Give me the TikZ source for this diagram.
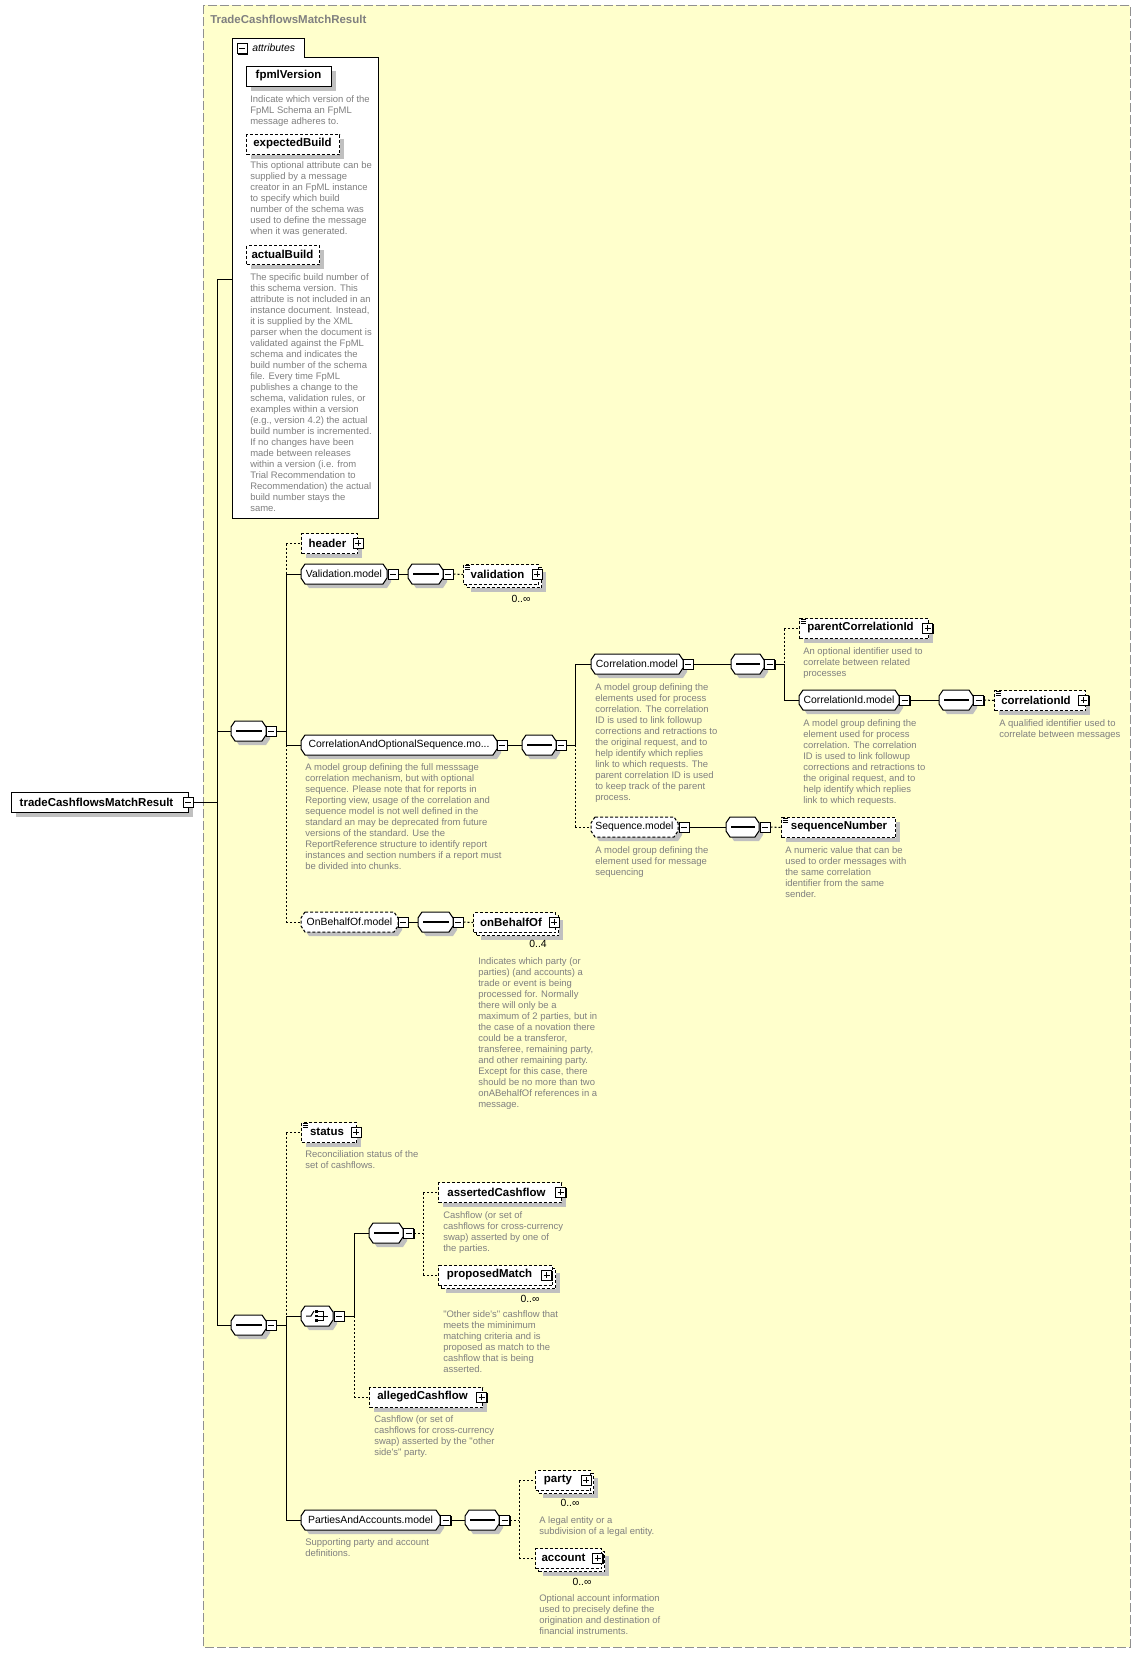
\documentclass[tikz,border=0pt]{standalone}
\usepackage{fontspec}
\newfontfamily\uifont{Liberation Sans}[Ligatures=TeXOff]
\usetikzlibrary{shadows}
\definecolor{bgy}{HTML}{FFFFCC}
\definecolor{framec}{HTML}{909090}
\definecolor{descc}{HTML}{808080}
\definecolor{shadowc}{HTML}{C0C0C0}
\tikzset{
  conn/.style={draw=black, line width=0.75pt},
  dconn/.style={conn, dash pattern=on 1.5pt off 1.5pt},
  dbox/.style={dash pattern=on 2.25pt off 1.5pt},
  shad/.style={drop shadow={shadow xshift=3pt, shadow yshift=-3pt, fill=shadowc, opacity=1}},
  ebox/.style={draw=black, fill=white, inner sep=0pt, line width=0.75pt, rectangle},
  elabel/.style={inner sep=0pt, font=\uifont\bfseries\fontsize{8.6}{10}\selectfont},
  mlabel/.style={inner sep=0pt, font=\uifont\fontsize{7.8}{9}\selectfont},
  desctext/.style={inner sep=0pt, anchor=north west, align=left, text=descc, font=\uifont\fontsize{7.1}{8.25}\selectfont},
  iconbox/.style={draw=black, fill=white, line width=0.75pt, inner sep=0pt, minimum size=7.5pt, rectangle,
     drop shadow={shadow xshift=0.75pt, shadow yshift=-0.75pt, fill=black, opacity=1}},
  ttl/.style={inner sep=0pt, text=descc, font=\uifont\bfseries\fontsize{8.6}{10}\selectfont},
}
% element box: [opts]{name}{x1}{y1}{x2}{y2}{xr}{label}
\newcommand\elem[8][]{%
  \node[ebox,shad,#1,anchor=north west,minimum width={(#5-#3)*0.75pt},minimum height={(#6-#4)*0.75pt}] (#2) at (#3,#4) {};
  \node[elabel] (#2-t) at ({(#3+#7)/2},{(#4+#6)/2}) {#8};}
% multi element box
\newcommand\melem[8][]{%
  \node[ebox,shad,dbox,#1,anchor=north west,minimum width={(#5-#3)*0.75pt},minimum height={(#6-#4)*0.75pt}] (#2-b) at ({#3+3},{#4+3}) {};
  \node[ebox,dbox,#1,anchor=north west,minimum width={(#5-#3)*0.75pt},minimum height={(#6-#4)*0.75pt}] (#2) at (#3,#4) {};
  \node[elabel] (#2-t) at ({(#3+#7)/2},{(#4+#6)/2}) {#8};}
% octagon: [opts]{name}{x1}{x2}{yc}{label}
\newcommand\oct[6][]{%
  \fill[shadowc] ({#3+8},{#5-6}) -- (#4,{#5-6}) -- ({#4+4},{#5+0}) -- ({#4+4},{#5+8}) -- (#4,{#5+14}) -- ({#3+8},{#5+14}) -- ({#3+4},{#5+8}) -- ({#3+4},{#5+0}) -- cycle;
  \draw[fill=white,line width=0.75pt,#1] ({#3+4},{#5-10}) -- ({#4-4},{#5-10}) -- (#4,{#5-4}) -- (#4,{#5+4}) -- ({#4-4},{#5+10}) -- ({#3+4},{#5+10}) -- (#3,{#5+4}) -- (#3,{#5-4}) -- cycle;
  \node[inner sep=0pt,minimum width={(#4-#3)*0.75pt},minimum height=15pt] (#2) at ({(#3+#4)/2},#5) {};
  \node[mlabel] (#2-t) at ({(#3+#4)/2},#5) {#6};}
\newcommand\seqsym[3]{%
  \draw[line width=0.8pt] ({#1+5},#3) -- ({#2-4},#3);
  \fill ({(#1+#2)/2-5},{#3-1.3}) rectangle +(2.6,2.6);
  \fill ({(#1+#2)/2-0.8},{#3-1.3}) rectangle +(2.6,2.6);
  \fill ({(#1+#2)/2+3.6},{#3-1.3}) rectangle +(2.6,2.6);}
\newcommand\choicesym[3]{%
  \draw[line width=0.75pt] ({#1+5},#3) -- ({#1+10},#3) -- ({#1+13},{#3-5});
  \fill ({#1+14.3},{#3-6}) rectangle +(2.7,2.7);
  \fill ({#1+14.3},{#3-1.35}) rectangle +(2.7,2.7);
  \fill ({#1+14.3},{#3+3.3}) rectangle +(2.7,2.7);
  \draw[line width=0.75pt] ({#1+17},{#3-4.6}) -- ({#1+22},{#3-4.6}) -- ({#1+22},{#3+4.6}) -- ({#1+17},{#3+4.6}) ({#1+17},#3) -- ({#2-5},#3);}
\newcommand\iconm[3]{%
  \node[iconbox] (#1) at (#2,#3) {};
  \draw[line width=0.75pt] ({#2-3},#3) -- ({#2+3},#3);}
\newcommand\iconp[3]{%
  \node[iconbox] (#1) at (#2,#3) {};
  \draw[line width=0.75pt] ({#2-3},#3) -- ({#2+3},#3) (#2,{#3-3}) -- (#2,{#3+3});}
\newcommand\simpleic[2]{\draw[line width=0.6pt] ({#1+1.5},{#2+1.8}) -- ++(5,0) ({#1+1.5},{#2+3.8}) -- ++(5,0) ({#1+1.5},{#2+5.8}) -- ++(5,0);}
\newcommand\desc[4]{\node[desctext] (#1) at (#2,{#3-3.5}) {#4};}
\newcommand\occ[4]{\node[mlabel] (#1) at (#2,#3) {#4};}

\begin{document}
\begin{tikzpicture}[x=0.75pt,y=-0.75pt]
\useasboundingbox (0,0) rectangle (1141,1653);
\path[fill=white] (0,0) rectangle (1141,1653);
\draw[fill=bgy, draw=framec, line width=0.75pt, dash pattern=on 6.75pt off 2.25pt] (203,5) rectangle (1130,1647);
\node[ttl,anchor=west] (title) at (210,19) {TradeCashflowsMatchResult};

% ---------- attributes ----------
\draw[fill=white,line width=0.75pt] (232,38) -- (304,38) -- (304,57) -- (378,57) -- (378,518) -- (232,518) -- cycle;
\coordinate (attrw) at (232,279);
\iconm{attrm}{242}{48.5}
\node[inner sep=0pt,anchor=west,font=\uifont\itshape\fontsize{7.8}{9}\selectfont] (attrt) at (252,48) {attributes};

\elem{fpml}{246}{66}{331}{86}{331}{fpmlVersion}
\desc{fpmld}{250}{99}{Indicate which version of the\\FpML Schema an FpML\\message adheres to.}
\elem[dbox]{expb}{246}{134}{339}{154}{339}{expectedBuild}
\desc{expbd}{250}{165}{This optional attribute can be\\supplied by a message\\creator in an FpML instance\\to specify which build\\number of the schema was\\used to define the message\\when it was generated.}
\elem[dbox]{actb}{246}{245}{319}{264}{319}{actualBuild}
\desc{actbd}{250}{277}{The specific build number of\\this schema version. This\\attribute is not included in an\\instance document. Instead,\\it is supplied by the XML\\parser when the document is\\validated against the FpML\\schema and indicates the\\build number of the schema\\file. Every time FpML\\publishes a change to the\\schema, validation rules, or\\examples within a version\\(e.g., version 4.2) the actual\\build number is incremented.\\If no changes have been\\made between releases\\within a version (i.e. from\\Trial Recommendation to\\Recommendation) the actual\\build number stays the\\same.}

% ---------- root ----------
\elem{root}{11}{792}{188}{812}{182}{tradeCashflowsMatchResult}
\iconm{rootm}{188}{802}

\coordinate (busA) at (217,0);
\coordinate (busB) at (286,0);
\coordinate (busC) at (575,0);
\coordinate (busD) at (784,0);
\coordinate (busF) at (354,0);
\coordinate (busG) at (423,0);
\coordinate (busH) at (519,0);

% ---------- first sequence ----------
\oct{seq1}{231}{266}{731}{}\seqsym{231}{266}{731}
\iconm{seq1m}{271}{731}

\elem[dbox]{header}{301}{533}{357}{553}{354}{header}
\iconp{headerp}{358}{543}

\oct{valm}{301}{387}{574}{Validation.model}
\iconm{valmm}{393}{574}
\oct{valseq}{408}{443}{574}{}\seqsym{408}{443}{574}
\iconm{valseqm}{448}{574}
\melem{valid}{463}{564}{538}{584}{532}{validation}
\simpleic{463}{564}
\iconp{validp}{537}{574}
\occ{valido}{521}{599}{0..∞}

\oct{corrseq}{301}{497}{745}{CorrelationAndOptionalSequence.mo...}
\iconm{corrseqm}{502}{745}
\oct{csseq}{522}{556}{745}{}\seqsym{522}{556}{745}
\iconm{csseqm}{561}{745}
\desc{corrseqd}{305}{767}{A model group defining the full messsage\\correlation mechanism, but with optional\\sequence. Please note that for reports in\\Reporting view, usage of the correlation and\\sequence model is not well defined in the\\standard an may be deprecated from future\\versions of the standard. Use the\\ReportReference structure to identify report\\instances and section numbers if a report must\\be divided into chunks.}

\oct{corrm}{591}{683}{664}{Correlation.model}
\iconm{corrmm}{688}{664}
\oct{cmseq}{731}{764}{664}{}\seqsym{731}{764}{664}
\iconm{cmseqm}{769.5}{664}
\desc{corrmd}{595}{687}{A model group defining the\\elements used for process\\correlation. The correlation\\ID is used to link followup\\corrections and retractions to\\the original request, and to\\help identify which replies\\link to which requests. The\\parent correlation ID is used\\to keep track of the parent\\process.}

\elem[dbox]{pcid}{799}{618}{928}{638}{922}{parentCorrelationId}
\simpleic{799}{618}
\iconp{pcidp}{927.5}{628}
\desc{pcidd}{803}{651}{An optional identifier used to\\correlate between related\\processes}

\oct{cidm}{799}{899}{700}{CorrelationId.model}
\iconm{cidmm}{904.5}{700}
\oct{cidseq}{939}{973}{700}{}\seqsym{939}{973}{700}
\iconm{cidseqm}{978.5}{700}
\elem[dbox]{cid}{994}{690}{1085}{710}{1078}{correlationId}
\simpleic{994}{690}
\iconp{cidp}{1083.5}{700}
\desc{cidd}{999}{723}{A qualified identifier used to\\correlate between messages}
\desc{cidmd}{803}{723}{A model group defining the\\element used for process\\correlation. The correlation\\ID is used to link followup\\corrections and retractions to\\the original request, and to\\help identify which replies\\link to which requests.}

\oct[dbox]{seqm}{591}{678}{827}{Sequence.model}
\iconm{seqmm}{684}{827}
\oct{smseq}{726}{759}{827}{}\seqsym{726}{759}{827}
\iconm{smseqm}{765}{827}
\elem[dbox]{seqn}{781}{817}{895}{837}{897}{sequenceNumber}
\simpleic{781}{817}
\desc{seqnd}{785}{850}{A numeric value that can be\\used to order messages with\\the same correlation\\identifier from the same\\sender.}
\desc{seqmd}{595}{850}{A model group defining the\\element used for message\\sequencing}

\oct[dbox]{obom}{301}{398}{922}{OnBehalfOf.model}
\iconm{obomm}{403}{922}
\oct{oboseq}{418}{453}{922}{}\seqsym{418}{453}{922}
\iconm{oboseqm}{458}{922}
\melem{obo}{473}{912}{555}{932}{549}{onBehalfOf}
\iconp{obop}{554}{922}
\occ{oboo}{538}{944}{0..4}
\desc{obod}{478}{961}{Indicates which party (or\\parties) (and accounts) a\\trade or event is being\\processed for. Normally\\there will only be a\\maximum of 2 parties, but in\\the case of a novation there\\could be a transferor,\\transferee, remaining party,\\and other remaining party.\\Except for this case, there\\should be no more than two\\onABehalfOf references in a\\message.}

% ---------- second sequence ----------
\oct{seq2}{231}{266}{1325}{}\seqsym{231}{266}{1325}
\iconm{seq2m}{271}{1325}

\elem[dbox]{status}{301}{1122}{356}{1142}{353}{status}
\simpleic{301}{1122}
\iconp{statusp}{356}{1132}
\desc{statusd}{305}{1154}{Reconciliation status of the\\set of cashflows.}

\oct{choice}{301}{333}{1316}{}\choicesym{301}{333}{1316}
\iconm{choicem}{339}{1316}

\oct{seq3}{369}{403}{1233}{}\seqsym{369}{403}{1233}
\iconm{seq3m}{408.5}{1233}

\elem[dbox]{asserted}{438}{1182}{561}{1202}{555}{assertedCashflow}
\iconp{assertedp}{560.5}{1192}
\desc{assertedd}{443}{1215}{Cashflow (or set of\\cashflows for cross-currency\\swap) asserted by one of\\the parties.}

\melem{proposed}{438}{1265}{552}{1285}{541}{proposedMatch}
\iconp{proposedp}{546.5}{1275}
\occ{proposedo}{530}{1299}{0..∞}
\desc{proposedd}{443}{1314}{"Other side's" cashflow that\\meets the miminimum\\matching criteria and is\\proposed as match to the\\cashflow that is being\\asserted.}

\elem[dbox]{alleged}{369}{1387}{482}{1407}{476}{allegedCashflow}
\iconp{allegedp}{481.5}{1397}
\desc{allegedd}{374}{1419}{Cashflow (or set of\\cashflows for cross-currency\\swap) asserted by the "other\\side's" party.}

\oct{pam}{301}{440}{1520}{PartiesAndAccounts.model}
\iconm{pamm}{445.5}{1520}
\oct{paseq}{465}{499}{1520}{}\seqsym{465}{499}{1520}
\iconm{paseqm}{504.5}{1520}
\desc{pamd}{305}{1542}{Supporting party and account\\definitions.}

\melem{party}{535}{1470}{590}{1490}{581}{party}
\iconp{partyp}{586}{1480}
\occ{partyo}{570}{1503}{0..∞}
\desc{partyd}{539}{1520}{A legal entity or a\\subdivision of a legal entity.}

\melem{account}{535}{1548}{601}{1568}{592}{account}
\iconp{accountp}{597.5}{1558}
\occ{accounto}{582}{1582}{0..∞}
\desc{accountd}{539}{1598}{Optional account information\\used to precisely define the\\origination and destination of\\financial instruments.}

% ---------- connectors ----------
\draw[conn] (attrw -| busA) -- (seq2.west -| busA);
\draw[conn] (attrw -| busA) -- (attrw);
\draw[conn] (rootm.east) -- (rootm.east -| busA);
\draw[conn] (seq1.west -| busA) -- (seq1.west);
\draw[conn] (seq2.west -| busA) -- (seq2.west);

\draw[conn] (seq1m.east) -- (seq1m.east -| busB);
\draw[dconn] (header.west -| busB) -- (valm.west -| busB);
\draw[conn] (valm.west -| busB) -- (corrseq.west -| busB);
\draw[dconn] (corrseq.west -| busB) -- (obom.west -| busB);
\draw[dconn] (header.west -| busB) -- (header.west);
\draw[conn] (valm.west -| busB) -- (valm.west);
\draw[conn] (corrseq.west -| busB) -- (corrseq.west);
\draw[dconn] (obom.west -| busB) -- (obom.west);

\draw[conn] (valmm.east) -- (valseq.west);
\draw[dconn] (valseqm.east) -- (valid.west);

\draw[conn] (corrseqm.east) -- (csseq.west);
\draw[conn] (csseqm.east) -- (csseqm.east -| busC);
\draw[conn] (corrm.west -| busC) -- (csseqm.east -| busC);
\draw[dconn] (csseqm.east -| busC) -- (seqm.west -| busC);
\draw[conn] (corrm.west -| busC) -- (corrm.west);
\draw[dconn] (seqm.west -| busC) -- (seqm.west);

\draw[conn] (corrmm.east) -- (cmseq.west);
\draw[conn] (cmseqm.east) -- (cmseqm.east -| busD);
\draw[dconn] (pcid.west -| busD) -- (cmseqm.east -| busD);
\draw[conn] (cmseqm.east -| busD) -- (cidm.west -| busD);
\draw[dconn] (pcid.west -| busD) -- (pcid.west);
\draw[conn] (cidm.west -| busD) -- (cidm.west);
\draw[conn] (cidmm.east) -- (cidseq.west);
\draw[dconn] (cidseqm.east) -- (cid.west);

\draw[conn] (seqmm.east) -- (smseq.west);
\draw[dconn] (smseqm.east) -- (seqn.west);

\draw[conn] (obomm.east) -- (oboseq.west);
\draw[dconn] (oboseqm.east) -- (obo.west);

\draw[conn] (seq2m.east) -- (seq2m.east -| busB);
\draw[dconn] (status.west -| busB) -- (choice.west -| busB);
\draw[conn] (choice.west -| busB) -- (pam.west -| busB);
\draw[dconn] (status.west -| busB) -- (status.west);
\draw[conn] (choice.west -| busB) -- (choice.west);
\draw[conn] (pam.west -| busB) -- (pam.west);

\draw[conn] (choicem.east) -- (choicem.east -| busF);
\draw[conn] (seq3.west -| busF) -- (choicem.east -| busF);
\draw[dconn] (choicem.east -| busF) -- (alleged.west -| busF);
\draw[conn] (seq3.west -| busF) -- (seq3.west);
\draw[dconn] (alleged.west -| busF) -- (alleged.west);

\draw[dconn] (seq3m.east) -- (seq3m.east -| busG);
\draw[dconn] (asserted.west -| busG) -- (proposed.west -| busG);
\draw[dconn] (asserted.west -| busG) -- (asserted.west);
\draw[dconn] (proposed.west -| busG) -- (proposed.west);

\draw[conn] (pamm.east) -- (paseq.west);
\draw[dconn] (paseqm.east) -- (paseqm.east -| busH);
\draw[dconn] (party.west -| busH) -- (account.west -| busH);
\draw[dconn] (party.west -| busH) -- (party.west);
\draw[dconn] (account.west -| busH) -- (account.west);
\end{tikzpicture}
\end{document}
